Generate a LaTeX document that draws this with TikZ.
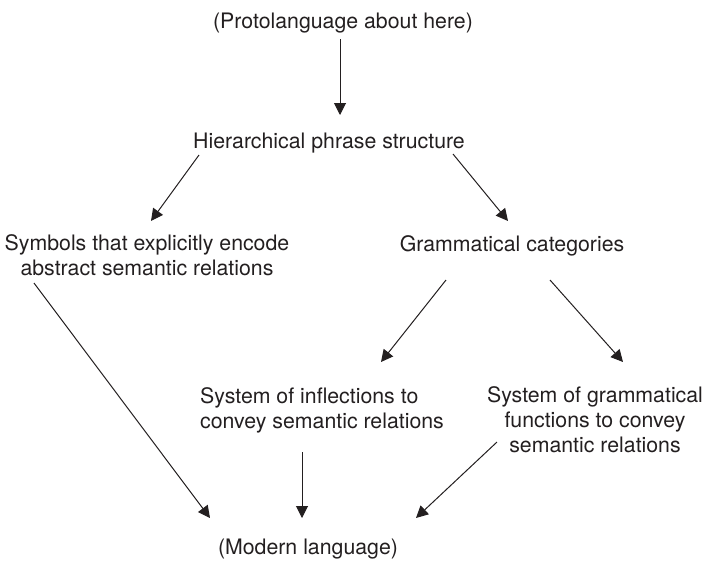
\documentclass[tikz,border=0pt]{standalone}
\usepackage{fontspec}
\setmainfont{TeX Gyre Heros}
\usetikzlibrary{arrows.meta}
\definecolor{ink}{HTML}{231F20}
\begin{document}
\begin{tikzpicture}[x=1pt,y=-1pt,
  lbl/.style={inner sep=0pt,text=ink,font=\fontsize{21.3}{24.8}\selectfont},
  flow/.style={draw=ink,line width=1pt,-{Triangle[length=12pt,width=12pt]}}]
\useasboundingbox (0,0) rectangle (709,563);

% stages of the sequence (multi-line labels are placed by their last baseline)
\node[lbl,anchor=base] (proto) at (343,28) {(Protolanguage about here)};
\node[lbl,anchor=base] (hps) at (329,148) {Hierarchical phrase structure};
\node[lbl,anchor=base,align=center] (sym) at (147,275) {Symbols that explicitly encode\\abstract semantic relations};
\node[lbl,anchor=base] (gram) at (512,251) {Grammatical categories};
\node[lbl,anchor=base west,align=left] (infl) at (200,428) {System of inflections to\\convey semantic relations};
\node[lbl,anchor=base,align=center] (func) at (595,452) {System of grammatical\\functions to convey\\semantic relations};
\node[lbl,anchor=base] (modern) at (308,554) {(Modern language)};

% arrow end points
\coordinate (p1) at (340,39);   \coordinate (h1) at (340,115);
\coordinate (h2) at (199,155);  \coordinate (s1) at (151,221);
\coordinate (h3) at (453,154);  \coordinate (g1) at (508,221);
\coordinate (s2) at (34,283);   \coordinate (m1) at (210,518);
\coordinate (g2) at (446,280);  \coordinate (i1) at (381,362);
\coordinate (g3) at (550,280);  \coordinate (f1) at (623,362);
\coordinate (i2) at (302,452);  \coordinate (m2) at (302,518);
\coordinate (f2) at (497,442);  \coordinate (m3) at (416,518);

\draw[flow] (p1) -- (h1);
\draw[flow] (h2) -- (s1);
\draw[flow] (h3) -- (g1);
\draw[flow] (s2) -- (m1);
\draw[flow] (g2) -- (i1);
\draw[flow] (g3) -- (f1);
\draw[flow] (i2) -- (m2);
\draw[flow] (f2) -- (m3);
\end{tikzpicture}
\end{document}
